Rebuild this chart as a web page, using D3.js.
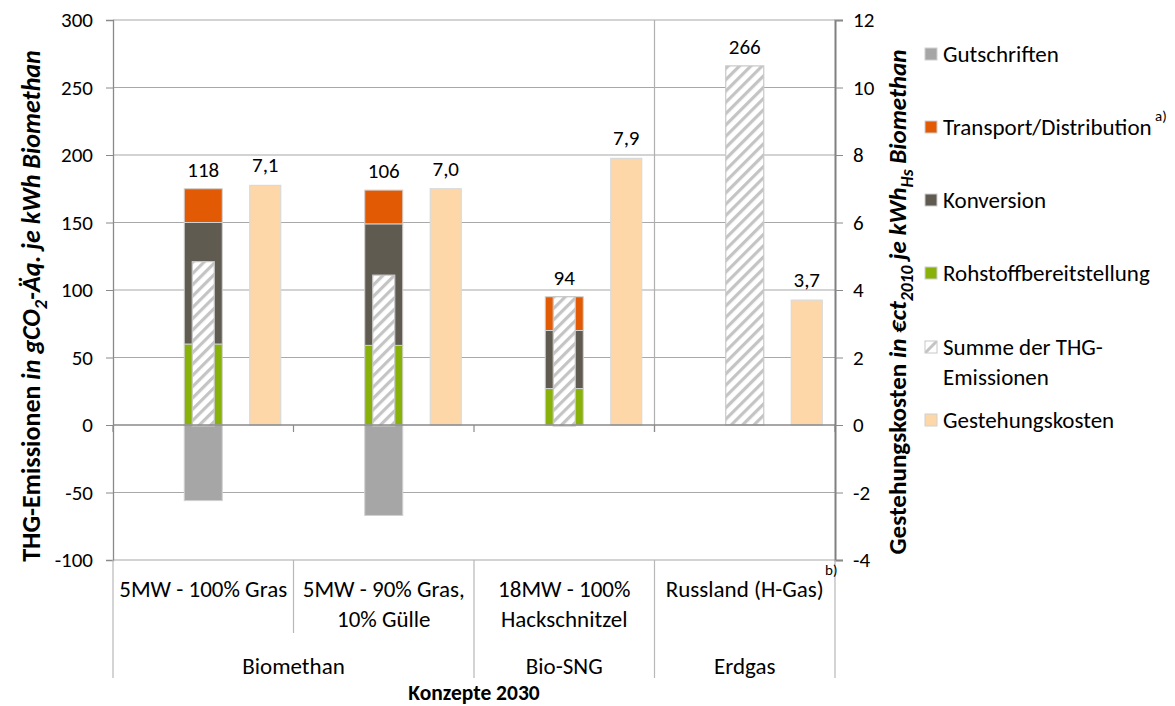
<!DOCTYPE html>
<html><head><meta charset="utf-8">
<script src="https://cdn.jsdelivr.net/npm/d3@7"></script>
<style>
body{margin:0;background:#fff;}
text{font-family:Carlito,Lato,"Open Sans",sans-serif;fill:#000;}
</style></head>
<body><svg id="c" width="1175" height="706"></svg>
<script>
// ---- data ----
const categories = ["5MW - 100% Gras", "5MW - 90% Gras, 10% Gülle", "18MW - 100% Hackschnitzel", "Russland (H-Gas)"];
const categoryLines = [["5MW - 100% Gras"], ["5MW - 90% Gras,", "10% Gülle"], ["18MW - 100%", "Hackschnitzel"], ["Russland (H-Gas)"]];
const groupOf = ["Biomethan", "Biomethan", "Bio-SNG", "Erdgas"];
const rohstoff = [60, 59, 27, 0];
const konversion = [90, 90, 43, 0];
const transport = [25, 25, 25, 0];
const gutschriften = [-56, -67, 0, 0];
const summe = [121, 111, 95, 266];
const summeTotals = [118, 106, 94, 266];
const kosten = [7.1, 7.0, 7.9, 3.7];
const yTicks = [-100, -50, 0, 50, 100, 150, 200, 250, 300];
const y2Ticks = [-4, -2, 0, 2, 4, 6, 8, 10, 12];
const legendItems = ["Gutschriften", "Transport/Distribution", "Konversion", "Rohstoffbereitstellung", "Summe der THG-|Emissionen", "Gestehungskosten"];
const colors = {Gutschriften:"#a6a6a6", Transport:"#e25b04", Konversion:"#605b50", Rohstoff:"#88b10a", Kosten:"#fdd7a7"};

// ---- layout ----
const svg = d3.select("#c");
const L = 113, R = 835, T = 20, B = 560;
const y = d3.scaleLinear().domain([-100, 300]).range([B, T]);
const y2 = d3.scaleLinear().domain([-4, 12]).range([B, T]);
const x = d3.scaleBand().domain(categories).range([L, R]);
const bw = x.bandwidth();
const FN = 21;   // numbers
const FT = 23;   // words

const defs = svg.append("defs");
const pat = defs.append("pattern").attr("id","hatch").attr("patternUnits","userSpaceOnUse")
  .attr("width",8).attr("height",8).attr("patternTransform","rotate(45)");
pat.append("rect").attr("width",8).attr("height",8).attr("fill","#fff");
pat.append("rect").attr("x",0).attr("width",3.2).attr("height",8).attr("fill","#c4c4c4");

// gridlines
svg.append("g").selectAll("line").data(yTicks.filter(v=>v!==0)).join("line")
  .attr("x1",L).attr("x2",R).attr("y1",d=>y(d)).attr("y2",d=>y(d))
  .attr("stroke","#a8a8a8").attr("stroke-width",1.2);

// separator line before Erdgas
svg.append("line").attr("x1",x(categories[3])).attr("x2",x(categories[3]))
  .attr("y1",T).attr("y2",y(0)+7).attr("stroke","#b0b0b0").attr("stroke-width",1.2);

// bars
const cx = i => x(categories[i]) + bw/2;
const sw = 38, hw = 22, kw = 31, kOff = 62;
const gBars = svg.append("g");
categories.forEach((c,i)=>{
  const segs = [
    {v0:0, v1:rohstoff[i], col:colors.Rohstoff},
    {v0:rohstoff[i], v1:rohstoff[i]+konversion[i], col:colors.Konversion},
    {v0:rohstoff[i]+konversion[i], v1:rohstoff[i]+konversion[i]+transport[i], col:colors.Transport},
    {v0:gutschriften[i], v1:0, col:colors.Gutschriften}
  ].filter(s=>s.v1!==s.v0);
  gBars.selectAll(null).data(segs).join("rect")
    .attr("x",cx(i)-sw/2).attr("width",sw)
    .attr("y",d=>y(Math.max(d.v0,d.v1))).attr("height",d=>Math.abs(y(d.v0)-y(d.v1)))
    .attr("fill",d=>d.col).attr("stroke","#d0d0d0").attr("stroke-width",1);
  const w = segs.length ? hw : sw;
  gBars.append("rect").attr("x",cx(i)-w/2).attr("width",w)
    .attr("y",y(summe[i])).attr("height",y(0)-y(summe[i])+ (segs.length?1:0))
    .attr("fill","url(#hatch)").attr("stroke","#c8c8c8").attr("stroke-width",1.2);
  gBars.append("rect").attr("x",cx(i)+kOff-kw/2).attr("width",kw)
    .attr("y",y2(kosten[i])).attr("height",y2(0)-y2(kosten[i]))
    .attr("fill",colors.Kosten).attr("stroke","#d9d9d9").attr("stroke-width",1.2);
  const top = Math.min(y(summe[i]), y(rohstoff[i]+konversion[i]+transport[i]));
  svg.append("text").attr("x",cx(i)).attr("y",top-12).attr("text-anchor","middle")
    .attr("font-size",FN).text(summeTotals[i]);
  svg.append("text").attr("x",cx(i)+kOff).attr("y",y2(kosten[i])-13).attr("text-anchor","middle")
    .attr("font-size",FN).text(d3.format(".1f")(kosten[i]).replace(".",","));
});

// zero axis line with ticks
svg.append("line").attr("x1",L).attr("x2",R).attr("y1",y(0)).attr("y2",y(0)).attr("stroke","#8a8a8a").attr("stroke-width",1.3);
const bounds = categories.map(c=>x(c)).concat([R]);
svg.append("g").selectAll("line").data(bounds).join("line")
  .attr("x1",d=>d).attr("x2",d=>d).attr("y1",y(0)).attr("y2",y(0)+7).attr("stroke","#8a8a8a").attr("stroke-width",1.2);

// left axis
const ax = svg.append("g").attr("transform",`translate(${L},0)`)
  .call(d3.axisLeft(y).tickValues(yTicks).tickSize(7).tickPadding(13).tickFormat(d=>String(d)));
ax.select(".domain").attr("stroke","#8a8a8a").attr("stroke-width",1.3);
ax.selectAll(".tick line").attr("stroke","#8a8a8a");
ax.selectAll(".tick text").attr("font-size",FN).attr("fill","#000").style("font-family","Carlito,Lato,sans-serif");

// right axis
const ax2 = svg.append("g").attr("transform",`translate(${R},0)`)
  .call(d3.axisRight(y2).tickValues(y2Ticks).tickSize(8).tickPadding(10).tickFormat(d=>String(d)));
ax2.select(".domain").attr("stroke","#808080").attr("stroke-width",2);
ax2.selectAll(".tick line").attr("stroke","#8a8a8a");
ax2.selectAll(".tick text").attr("font-size",FN).attr("fill","#000").style("font-family","Carlito,Lato,sans-serif");

// multi-level category axis
const gA = svg.append("g");
bounds.forEach((b,j)=>{
  const full = j===0 || j===bounds.length-1 || groupOf[j]!==groupOf[j-1];
  gA.append("line").attr("x1",b).attr("x2",b).attr("y1",B).attr("y2",full?678:633)
    .attr("stroke","#b8b8b8").attr("stroke-width",1.2);
});
categoryLines.forEach((lines,i)=>{
  lines.forEach((t,k)=>{
    gA.append("text").attr("x",cx(i)).attr("y",589+k*30).attr("dy","0.35em")
      .attr("text-anchor","middle").attr("font-size",FT).text(t);
  });
});
const groups = Array.from(new Set(groupOf));
groups.forEach(g=>{
  const idx = groupOf.map((v,i)=>v===g?i:-1).filter(i=>i>=0);
  const x0 = x(categories[idx[0]]), x1 = x(categories[idx[idx.length-1]])+bw;
  gA.append("text").attr("x",(x0+x1)/2).attr("y",666).attr("dy","0.35em")
    .attr("text-anchor","middle").attr("font-size",FT).text(g);
});
svg.append("text").attr("x",(L+R)/2).attr("y",692).attr("dy","0.35em").attr("text-anchor","middle")
  .attr("font-size",21.5).attr("font-weight","bold").text("Konzepte 2030");
svg.append("text").attr("x",825).attr("y",575).attr("font-size",15).text("b)");

// axis titles (fitted to the reference span)
function title(xp, yp, target, parts){
  const t = svg.append("text").attr("transform",`translate(${xp},${yp}) rotate(-90)`)
    .attr("text-anchor","middle").attr("font-weight","bold");
  const spans = parts.map(p=>{
    const s = t.append("tspan").text(p.t);
    if(p.i) s.attr("font-style","italic");
    return {s,p};
  });
  function apply(fs){
    t.attr("font-size",fs);
    spans.forEach(({s,p})=>{
      if(p.sub) s.attr("font-size",fs*0.7).attr("dy",fs*0.28);
      if(p.after) s.attr("dy",-fs*0.28);
    });
  }
  apply(22);
  const w = t.node().getComputedTextLength();
  apply(22*target/w);
}
title(40, 306, 512, [{t:"THG-Emissionen "},{t:"in gCO",i:1},{t:"2",i:1,sub:1},{t:"-Äq. je kWh Biomethan",i:1,after:1}]);
title(906, 302, 505, [{t:"Gestehungskosten "},{t:"in €ct",i:1},{t:"2010",i:1,sub:1},{t:"  je kWh",i:1,after:1},{t:"Hs",i:1,sub:1},{t:" Biomethan",i:1,after:1}]);

// legend
const legY = [54, 127, 200, 273, 347, 420];
const legFill = [colors.Gutschriften, colors.Transport, colors.Konversion, colors.Rohstoff, "url(#hatchL)", colors.Kosten];
const patL = defs.append("pattern").attr("id","hatchL").attr("patternUnits","objectBoundingBox").attr("width",1).attr("height",1);
patL.append("rect").attr("width",12).attr("height",12).attr("fill","#fff");
patL.append("path").attr("d","M0,12 L12,0").attr("stroke","#c4c4c4").attr("stroke-width",3);
legendItems.forEach((item,i)=>{
  svg.append("rect").attr("x",925).attr("y",legY[i]-6).attr("width",12).attr("height",12)
    .attr("fill",legFill[i]).attr("stroke",i===4?"#c8c8c8":"#d0d0d0").attr("stroke-width",1);
  item.split("|").forEach((ln,k)=>{
    svg.append("text").attr("x",943).attr("y",legY[i]+k*30).attr("dy","0.35em").attr("font-size",FT).text(ln);
  });
});
svg.append("text").attr("x",1155).attr("y",121).attr("font-size",15).text("a)");
</script></body></html>
